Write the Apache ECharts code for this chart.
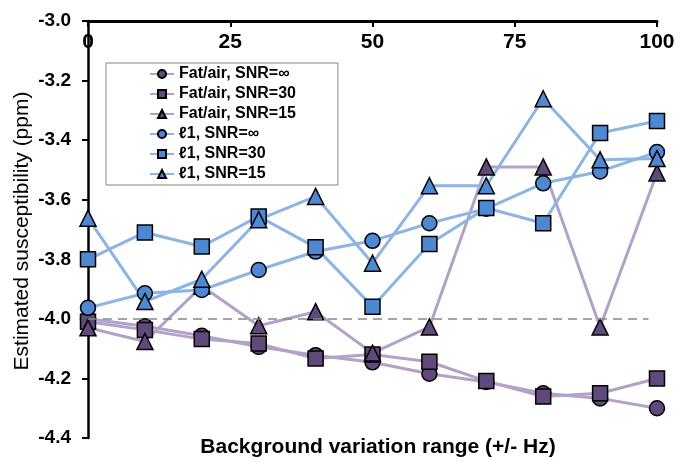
<!DOCTYPE html>
<html>
<head>
<meta charset="utf-8">
<script src="https://cdn.jsdelivr.net/npm/echarts@6/dist/echarts.min.js"></script>
<style>html,body{margin:0;padding:0;background:#fff}#c{width:688px;height:463px}</style>
</head>
<body>
<div id="c"></div>
<script>
const xValues = [0, 10, 20, 30, 40, 50, 60, 70, 80, 90, 100];
const xTicks = [0, 25, 50, 75, 100];
const yTicks = [-4.4, -4.2, -4.0, -3.8, -3.6, -3.4, -3.2, -3.0];
const fatAirInf = [-4.00, -4.025, -4.057, -4.094, -4.122, -4.146, -4.184, -4.212, -4.25, -4.267, -4.30];
const fatAir30 = [-4.01, -4.037, -4.068, -4.083, -4.133, -4.12, -4.144, -4.209, -4.261, -4.25, -4.20];
const fatAir15 = [-4.03, -4.076, -3.89, -4.023, -3.976, -4.115, -4.027, -3.49, -3.49, -4.027, -3.51];
const l1Inf = [-3.963, -3.914, -3.903, -3.836, -3.774, -3.738, -3.679, -3.63, -3.545, -3.505, -3.44];
const l1_30 = [-3.80, -3.71, -3.757, -3.656, -3.76, -3.959, -3.749, -3.628, -3.679, -3.376, -3.336];
const l1_15 = [-3.662, -3.942, -3.867, -3.667, -3.589, -3.813, -3.553, -3.553, -3.261, -3.466, -3.462];
const referenceLevel = -4.0;
const referenceEnd = 98.5;
const seriesNames = ['Fat/air, SNR=\u221e', 'Fat/air, SNR=30', 'Fat/air, SNR=15', '\u21131, SNR=\u221e', '\u21131, SNR=30', '\u21131, SNR=15'];
const xAxisTitle = 'Background variation range (+/- Hz)';
const yAxisTitle = 'Estimated susceptibility (ppm)';

const PURPLE_LINE = '#b3a2c7', PURPLE_FILL = '#5f4a7b';
const BLUE_LINE = '#8db4e2', BLUE_FILL = '#4f88d2';

function mk(name, vals, symbol, lineColor, fill, extra) {
  const s = {
    name: name,
    type: 'line',
    data: xValues.map((x, i) => [x, vals[i]]),
    symbol: symbol,
    symbolSize: symbol === 'triangle' ? 16 : 15,
    showAllSymbol: true,
    lineStyle: { color: lineColor, width: 3 },
    itemStyle: { color: fill, borderColor: '#000', borderWidth: 1.5 },
    emphasis: { disabled: true },
    animation: false
  };
  return Object.assign(s, extra || {});
}

const chart = echarts.init(document.getElementById('c'));
chart.setOption({
  animation: false,
  backgroundColor: '#fff',
  grid: { left: 88, right: 31, top: 21, bottom: 25, containLabel: false },
  xAxis: {
    type: 'value', position: 'top', min: xTicks[0], max: xTicks[xTicks.length - 1], interval: 25,
    axisLine: { show: true, onZero: false, lineStyle: { color: '#000', width: 3 } },
    axisTick: { show: true, inside: true, length: 6, lineStyle: { color: '#000', width: 2 } },
    axisLabel: { inside: true, margin: 11, color: '#000', fontWeight: 'bold', fontSize: 21, fontFamily: 'Liberation Sans' },
    splitLine: { show: false }
  },
  yAxis: {
    type: 'value', min: yTicks[0], max: yTicks[yTicks.length - 1], interval: 0.2,
    axisLine: { show: true, onZero: false, lineStyle: { color: '#000', width: 2.5 } },
    axisTick: { show: true, length: 6, lineStyle: { color: '#000', width: 2 } },
    axisLabel: { margin: 17, color: '#000', fontWeight: 'bold', fontSize: 19, fontFamily: 'Liberation Sans', formatter: v => v.toFixed(1) },
    splitLine: { show: false }
  },
  legend: {
    orient: 'vertical', left: 106, top: 63,
    padding: [3, 42, 3, 43],
    borderColor: '#888', borderWidth: 1, backgroundColor: '#fff',
    itemWidth: 24, itemHeight: 10, itemGap: 4,
    textStyle: { color: '#000', fontWeight: 'bold', fontSize: 16, fontFamily: 'Liberation Sans' },
    data: seriesNames
  },
  graphic: [{
    type: 'text', x: 378, y: 447,
    style: { text: xAxisTitle, fill: '#000', font: 'bold 21px "Liberation Sans"', textAlign: 'center', textVerticalAlign: 'middle' }
  }, {
    type: 'text', x: 22, y: 231, rotation: Math.PI / 2,
    style: { text: yAxisTitle, fill: '#000', font: '21px "Liberation Sans"', textAlign: 'center', textVerticalAlign: 'middle' }
  }],
  series: [
    mk(seriesNames[0], fatAirInf, 'circle', PURPLE_LINE, PURPLE_FILL, {
      markLine: {
        silent: true, symbol: ['none', 'none'], label: { show: false },
        lineStyle: { color: '#888', width: 1.5, type: [9, 6] },
        data: [[{ coord: [xValues[0], referenceLevel] }, { coord: [referenceEnd, referenceLevel] }]]
      }
    }),
    mk(seriesNames[1], fatAir30, 'rect', PURPLE_LINE, PURPLE_FILL),
    mk(seriesNames[2], fatAir15, 'triangle', PURPLE_LINE, PURPLE_FILL),
    mk(seriesNames[3], l1Inf, 'circle', BLUE_LINE, BLUE_FILL),
    mk(seriesNames[4], l1_30, 'rect', BLUE_LINE, BLUE_FILL),
    mk(seriesNames[5], l1_15, 'triangle', BLUE_LINE, BLUE_FILL)
  ]
});
</script>
</body>
</html>
